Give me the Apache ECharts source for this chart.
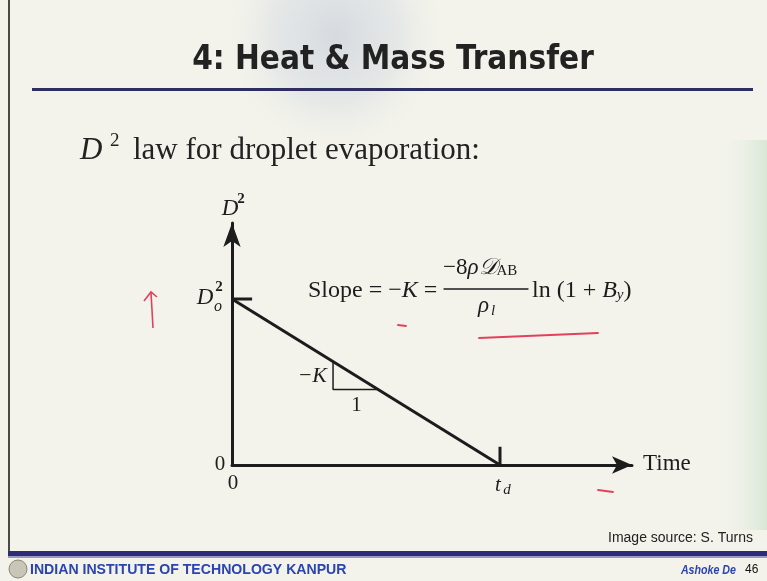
<!DOCTYPE html>
<html><head><meta charset="utf-8">
<script src="https://cdn.jsdelivr.net/npm/echarts@6/dist/echarts.min.js"></script>
<style>html,body{margin:0;padding:0;background:#f3f3eb;}#c{width:767px;height:581px;}</style>
</head><body><div id="c"></div><script>
// ---- data (normalised: time / t_d, D^2 / D0^2) ----
const timeValues = [0, 1];
const dSquaredValues = [1, 0];
const d0TickX = [0, 0.075];
const d0TickY = [1, 1];
const tdTickX = [1, 1];
const tdTickY = [0, 0.11];
const triangleX = [0.377, 0.377, 0.5455];
const triangleY = [0.623, 0.4545, 0.4545];
const xAxisMax = 1.4925;
const yAxisMax = 1.458;

const zip = (a, b) => a.map((v, i) => [v, b[i]]);
const ink = '#1c1c1c';
const serif = '"Liberation Serif", "DejaVu Serif", serif';
const sans = '"Liberation Sans", Arial, sans-serif';

const chart = echarts.init(document.getElementById('c'), null, {renderer: 'canvas'});

chart.setOption({
  backgroundColor: '#f3f3eb',
  animation: false,
  grid: {left: 232, top: 223, width: 400, height: 242},
  xAxis: {
    type: 'value', min: 0, max: xAxisMax,
    axisLine: {show: true, lineStyle: {color: ink, width: 3}, symbol: ['none', 'arrow'], symbolSize: [13, 20]},
    axisTick: {show: false}, axisLabel: {show: false}, splitLine: {show: false}
  },
  yAxis: {
    type: 'value', min: 0, max: yAxisMax,
    axisLine: {show: true, onZero: false, lineStyle: {color: ink, width: 3}, symbol: ['none', 'arrow'], symbolSize: [13, 24]},
    axisTick: {show: false}, axisLabel: {show: false}, splitLine: {show: false}
  },
  series: [
    {type: 'line', data: zip(timeValues, dSquaredValues), symbol: 'none', lineStyle: {color: ink, width: 3}, z: 3},
    {type: 'line', data: zip(d0TickX, d0TickY), symbol: 'none', lineStyle: {color: ink, width: 3}},
    {type: 'line', data: zip(tdTickX, tdTickY), symbol: 'none', lineStyle: {color: ink, width: 3}},
    {type: 'line', data: zip(triangleX, triangleY), symbol: 'none', lineStyle: {color: ink, width: 1.5}}
  ]
});

const P = (pt) => chart.convertToPixel({gridIndex: 0}, pt);
function T(x, y, text, font, fill, align, valign, extra) {
  const el = {type: 'text', x: x, y: y, z: 20, silent: true,
    style: {text: text, font: font, fill: fill || ink, align: align || 'left', verticalAlign: valign || 'middle'}};
  if (extra) {
    if (extra.style) Object.assign(el.style, extra.style);
    ['scaleX', 'scaleY', 'originX', 'originY'].forEach(k => { if (k in extra) el[k] = extra[k]; });
  }
  return el;
}
function R(x, y, text, rich, align) {
  return {type: 'text', x: x, y: y, z: 20, silent: true,
    style: {text: text, rich: rich, fill: ink, align: align || 'left', verticalAlign: 'middle'}};
}
function L(x1, y1, x2, y2, color, w) {
  return {type: 'line', z: 20, silent: true, shape: {x1, y1, x2, y2}, style: {stroke: color, lineWidth: w, lineCap: 'round'}};
}

const start = P([timeValues[0], dSquaredValues[0]]);
const end = P([timeValues[1], dSquaredValues[1]]);
const origin = P([0, 0]);
const yTop = P([0, yAxisMax]);
const xEnd = P([xAxisMax, 0]);
const triV = P([triangleX[0], (triangleY[0] + triangleY[1]) / 2]);
const triH = P([(triangleX[1] + triangleX[2]) / 2, triangleY[1]]);
const red = '#e2405c';

const fR = {font: '24px ' + serif, fill: ink};
const fI = {font: 'italic 24px ' + serif, fill: ink};

const g = [
  // background tints
  {type: 'rect', z: -10, silent: true, shape: {x: 0, y: 0, width: 767, height: 581}, style: {fill: '#f3f3eb'}},
  {type: 'circle', z: -9, silent: true, x: 335, y: 35, scaleX: 1.0, scaleY: 1.05, shape: {cx: 0, cy: 0, r: 115},
    style: {fill: new echarts.graphic.RadialGradient(0.5, 0.5, 0.5, [
      {offset: 0, color: 'rgba(208,214,222,0.85)'}, {offset: 0.55, color: 'rgba(220,224,228,0.6)'}, {offset: 1, color: 'rgba(243,243,235,0)'}])}},
  {type: 'rect', z: -9, silent: true, shape: {x: 715, y: 140, width: 52, height: 390},
    style: {fill: new echarts.graphic.LinearGradient(0, 0, 1, 0, [{offset: 0, color: 'rgba(243,243,235,0)'}, {offset: 1, color: 'rgba(214,230,212,0.9)'}])}},
  // left border
  {type: 'rect', z: 10, silent: true, shape: {x: 8, y: 0, width: 2, height: 552}, style: {fill: '#4a4a4a'}},
  // title
  T(393, 60, '4: Heat & Mass Transfer', 'bold 33px "DejaVu Sans Condensed", "DejaVu Sans", sans-serif', '#222', 'center', 'middle',
    {style: {shadowColor: 'rgba(0,0,0,0.35)', shadowBlur: 3, shadowOffsetX: 1, shadowOffsetY: 1}}),
  {type: 'rect', z: 10, silent: true, shape: {x: 32, y: 88, width: 721, height: 3}, style: {fill: '#2e2e62'}},
  // subtitle
  T(80, 151, 'D', 'italic 31px ' + serif, '#222'),
  T(110, 141, '2', '19px ' + serif, '#222'),
  T(133, 151, 'law for droplet evaporation:', '31px ' + serif, '#222'),
  // axis labels
  T(yTop[0] - 2, 209, 'D', 'italic 23px ' + serif, ink, 'center'),
  T(yTop[0] + 9, 199, '2', 'bold 15px ' + serif, ink, 'center'),
  T(start[0] - 27, start[1] - 1, 'D', 'italic 23px ' + serif, ink, 'center'),
  T(start[0] - 13, start[1] - 12, '2', 'bold 15px ' + serif, ink, 'center'),
  T(start[0] - 14, start[1] + 8, 'o', 'italic 16px ' + serif, ink, 'center'),
  T(origin[0] - 12, origin[1] - 1, '0', '21px ' + serif, ink, 'center'),
  T(origin[0] + 1, origin[1] + 18, '0', '21px ' + serif, ink, 'center'),
  T(end[0] - 2, end[1] + 20, 't', 'italic 21px ' + serif, ink, 'center'),
  T(end[0] + 7, end[1] + 25, 'd', 'italic 15px ' + serif, ink, 'center'),
  T(xEnd[0] + 11, xEnd[1] - 1, 'Time', '23px ' + serif),
  T(triV[0] - 6, triV[1] + 1, '\u2212K', 'italic 22px ' + serif, ink, 'right'),
  T(triH[0] + 1, triH[1] + 16, '1', '21px ' + serif, ink, 'center'),
  // formula
  R(308, 291, '{r|Slope = \u2212}{i|K}{r| =}', {r: fR, i: fI}),
  R(443, 268, '{r|\u22128}{i|\u03C1\uD835\uDC9F}{s|AB}', {r: {font: '23px ' + serif, fill: ink}, i: {font: 'italic 23px ' + serif, fill: ink}, s: {font: '15px ' + serif, fill: ink, padding: [6, 0, 0, 0]}}),
  L(444, 289, 528, 289, ink, 1.3),
  T(478, 306, '\u03C1', 'italic 23px ' + serif),
  T(491, 311, 'l', 'italic 15px ' + serif),
  R(532, 291, '{r|ln (1 + }{i|B}{s|y}{r|)}', {r: fR, i: fI, s: {font: 'italic 15px ' + serif, fill: ink, padding: [8, 0, 0, 0]}}),
  // red annotations
  {type: 'polyline', z: 21, silent: true, shape: {points: [[153, 328], [152, 310], [151, 293]]}, style: {stroke: red, lineWidth: 1.6, fill: null}},
  {type: 'polyline', z: 21, silent: true, shape: {points: [[144, 301], [151, 292], [157, 297]]}, style: {stroke: red, lineWidth: 1.6, fill: null}},
  L(398, 325, 406, 326, red, 1.8),
  L(479, 338, 598, 333, red, 1.8),
  L(598, 490, 613, 492, red, 1.8),
  // footer
  T(753, 538, 'Image source: S. Turns', '14px ' + sans, '#222', 'right'),
  {type: 'rect', z: 10, silent: true, shape: {x: 8, y: 551, width: 759, height: 5}, style: {fill: '#2c2c78'}},
  {type: 'rect', z: 10, silent: true, shape: {x: 8, y: 556, width: 759, height: 2}, style: {fill: '#9a9ac0'}},
  {type: 'circle', z: 10, silent: true, shape: {cx: 18, cy: 569, r: 9}, style: {fill: '#c9c6b8', stroke: '#8a8676', lineWidth: 1}},
  T(30, 570, 'INDIAN INSTITUTE OF TECHNOLOGY KANPUR', 'bold 15px ' + sans, '#2a44b0', 'left', 'middle', {scaleX: 0.94, originX: 0, originY: 0}),
  T(736, 570, 'Ashoke De', 'italic bold 13px ' + sans, '#2a44b0', 'right', 'middle', {scaleX: 0.82, originX: 0, originY: 0}),
  T(745, 570, '46', '12px ' + sans, '#111')
];
chart.setOption({graphic: g});
</script></body></html>
